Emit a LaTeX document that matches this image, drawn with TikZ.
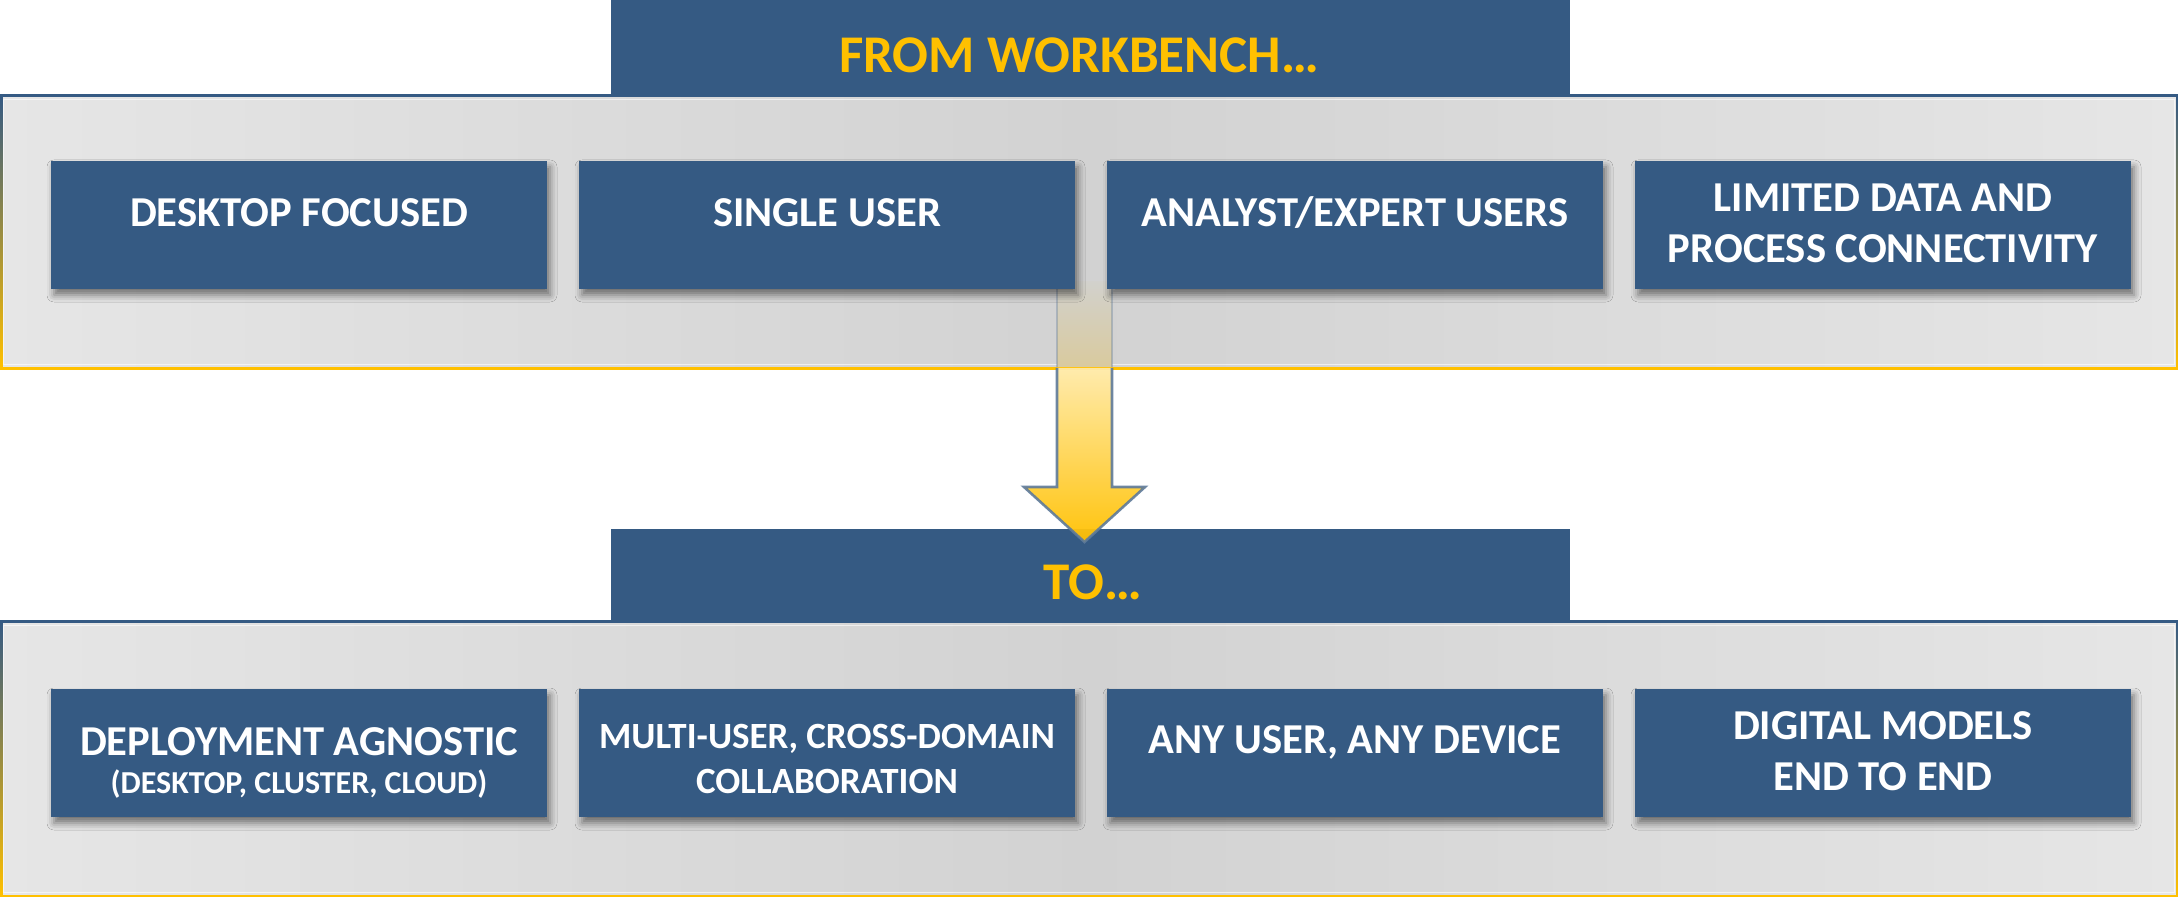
\documentclass[tikz,border=0pt]{standalone}
\usepackage{fontspec}
\setmainfont{Carlito}
\usetikzlibrary{shadows.blur}

\definecolor{navy}{RGB}{53,90,131}
\definecolor{gold}{RGB}{255,192,0}
\definecolor{panelmid}{RGB}{210,210,210}
\definecolor{paneledge}{RGB}{230,230,230}
\definecolor{arrowedge}{RGB}{94,122,154}
\definecolor{arrowlight}{RGB}{255,234,168}
\definecolor{arrowghosttop}{RGB}{210,209,204}
\definecolor{arrowghostbot}{RGB}{217,202,158}

\begin{document}
\begin{tikzpicture}[x=0.5pt,y=-0.5pt,
  panel/.style={draw=none, inner sep=0pt, minimum width=1089pt,
    left color=paneledge, right color=paneledge, middle color=panelmid},
  titlebox/.style={fill=navy, draw=none, inner sep=0pt,
    minimum width=479.5pt},
  titletext/.style={text=gold, font=\fontsize{26.5}{30}\selectfont\bfseries,
    inner sep=0pt},
  itembox/.style={fill=navy, draw=none, inner sep=0pt,
    minimum width=248pt, minimum height=64pt,
    blur shadow={shadow xshift=1.5pt, shadow yshift=-3pt,
      shadow blur radius=3.5pt, shadow opacity=50}},
  itemtext/.style={text=white, align=center, inner sep=0pt,
    font=\fontsize{21.3}{25.5}\selectfont\bfseries},
  edgeline/.style={line width=1.8pt},
]
\useasboundingbox (0,0) rectangle (2178,897);

% ---------- upper panel ----------
\node[panel, minimum height=136pt] (p1) at (1089,232) {};
\draw[white, opacity=0.6, line width=0.6pt]
  ([xshift=2pt,yshift=-2pt]p1.north west) rectangle ([xshift=-2pt,yshift=2pt]p1.south east);
\shade[top color=navy, bottom color=gold] (p1.north west) rectangle ([xshift=1.5pt]p1.south west);
\shade[top color=navy, bottom color=gold] ([xshift=-1.2pt]p1.north east) rectangle (p1.south east);
\draw[edgeline, navy] (p1.north west) -- (p1.north east);
\draw[edgeline, gold] (p1.south west) -- (p1.south east);

% faint part of the arrow seen through the panel
\shade[top color=arrowghosttop, bottom color=arrowghostbot] (1057,282) rectangle (1112,367);
\draw[arrowedge, opacity=0.35, line width=1.3pt] (1057,282) -- (1057,367);
\draw[arrowedge, opacity=0.35, line width=1.3pt] (1112,282) -- (1112,367);

% items of the workbench
\node[itembox] (a1) at (299,225) {};
\node[itembox] (a2) at (827,225) {};
\node[itembox] (a3) at (1355,225) {};
\node[itembox] (a4) at (1883,225) {};
\node[itemtext] (ta1) at ([yshift=6pt]a1.center) {DESKTOP FOCUSED};
\node[itemtext] (ta2) at ([yshift=6pt]a2.center) {SINGLE USER};
\node[itemtext] (ta3) at ([yshift=6pt]a3.center) {ANALYST/EXPERT USERS};
\node[itemtext] (ta4) at ([yshift=1pt]a4.center) {LIMITED DATA AND\\PROCESS CONNECTIVITY};

% heading
\node[titlebox, minimum height=48pt] (h1) at (1090.5,48) {};
\node[titletext] (th1) at ([xshift=-5.75pt,yshift=-3.6pt]h1.center) {FROM WORKBENCH…};

% ---------- lower panel ----------
\node[panel, minimum height=137pt] (p2) at (1089,759) {};
\draw[white, opacity=0.6, line width=0.6pt]
  ([xshift=2pt,yshift=-2pt]p2.north west) rectangle ([xshift=-2pt,yshift=2pt]p2.south east);
\shade[top color=navy, bottom color=gold] (p2.north west) rectangle ([xshift=1.5pt]p2.south west);
\shade[top color=navy, bottom color=gold] ([xshift=-1.2pt]p2.north east) rectangle (p2.south east);
\draw[edgeline, navy] (p2.north west) -- (p2.north east);
\draw[edgeline, gold] (p2.south west) -- (p2.south east);

\node[titlebox, minimum height=46.5pt] (h2) at (1090.5,575.5) {};
\node[titletext] (th2) at ([xshift=1pt,yshift=-3.6pt]h2.center) {TO…};

% the transition arrow below the upper panel
\shade[top color=arrowlight, bottom color=gold, opacity=0.95]
  (1057,368) -- (1057,487) -- (1024,487) -- (1084.5,542) -- (1145,487) -- (1112,487) -- (1112,368) -- cycle;
\draw[arrowedge, line width=1.3pt, line join=miter, opacity=0.9]
  (1057,368) -- (1057,487) -- (1024,487) -- (1084.5,542) -- (1145,487) -- (1112,487) -- (1112,368);

% items of the target
\node[itembox] (b1) at (299,753) {};
\node[itembox] (b2) at (827,753) {};
\node[itembox] (b3) at (1355,753) {};
\node[itembox] (b4) at (1883,753) {};
\node[itemtext] (tb1) at ([yshift=-5.1pt]b1.center)
  {DEPLOYMENT AGNOSTIC\\[-6.6pt]{\fontsize{16}{18}\selectfont (DESKTOP, CLUSTER, CLOUD)}};
\node[itemtext, font=\fontsize{18.5}{22.5}\selectfont\bfseries] (tb2) at ([yshift=-3pt]b2.center)
  {MULTI-USER, CROSS-DOMAIN\\COLLABORATION};
\node[itemtext] (tb3) at ([yshift=5.5pt]b3.center) {ANY USER, ANY DEVICE};
\node[itemtext] (tb4) at ([yshift=1pt]b4.center) {DIGITAL MODELS\\END TO END};
\end{tikzpicture}
\end{document}
